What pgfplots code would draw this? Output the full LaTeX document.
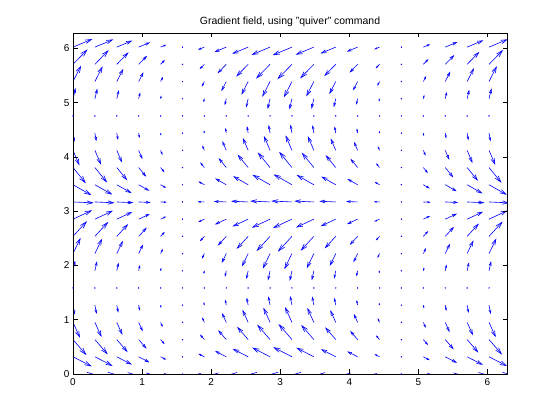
\documentclass[border=0pt]{standalone}
\usepackage{pgfplots}
\pgfplotsset{compat=1.18}
\usepackage{pgfplotstable}
\usepackage{fontspec}
\setmainfont{Liberation Sans}
\usetikzlibrary{arrows.meta}
\pgfplotstableread{
x y u v
0 0 1 0
0 0.317 0.903 -0.592
0 0.634 0.649 -0.955
0 0.951 0.337 -0.946
0 1.268 0.089 -0.569
0 1.902 0.106 0.615
0 2.219 0.365 0.963
0 2.536 0.676 0.936
0 2.853 0.919 0.546
0 3.170 0.999 -0.057
0 3.487 0.885 -0.637
0 3.804 0.622 -0.970
0 4.121 0.311 -0.926
0 4.438 0.073 -0.522
0 5.072 0.124 0.659
0 5.389 0.392 0.977
0 5.706 0.702 0.915
0 6.023 0.934 0.497
0.317 0 0.950 0
0.317 0.317 0.858 -0.563
0.317 0.634 0.617 -0.907
0.317 0.951 0.321 -0.899
0.317 1.268 0.084 -0.541
0.317 1.902 0.101 0.584
0.317 2.219 0.346 0.915
0.317 2.536 0.642 0.890
0.317 2.853 0.873 0.518
0.317 3.170 0.949 -0.054
0.317 3.487 0.841 -0.605
0.317 3.804 0.591 -0.922
0.317 4.121 0.295 -0.880
0.317 4.438 0.070 -0.496
0.317 5.072 0.118 0.626
0.317 5.389 0.373 0.928
0.317 5.706 0.667 0.869
0.317 6.023 0.887 0.473
0.634 0 0.806 0
0.634 0.317 0.727 -0.477
0.634 0.634 0.523 -0.769
0.634 0.951 0.272 -0.762
0.634 1.268 0.072 -0.459
0.634 1.902 0.085 0.496
0.634 2.219 0.294 0.776
0.634 2.536 0.545 0.754
0.634 2.853 0.740 0.440
0.634 3.170 0.805 -0.046
0.634 3.487 0.713 -0.513
0.634 3.804 0.501 -0.781
0.634 4.121 0.250 -0.746
0.634 4.438 0.059 -0.420
0.634 5.072 0.100 0.531
0.634 5.389 0.316 0.787
0.634 5.706 0.566 0.737
0.634 6.023 0.752 0.401
0.951 0 0.581 0
0.951 0.317 0.524 -0.344
0.951 0.634 0.377 -0.555
0.951 0.951 0.196 -0.549
0.951 1.268 0.052 -0.331
0.951 1.902 0.061 0.357
0.951 2.219 0.212 0.559
0.951 2.536 0.393 0.544
0.951 2.853 0.534 0.317
0.951 3.170 0.580 -0.033
0.951 3.487 0.514 -0.370
0.951 3.804 0.361 -0.563
0.951 4.121 0.181 -0.538
0.951 4.438 0.043 -0.303
0.951 5.072 0.072 0.383
0.951 5.389 0.228 0.567
0.951 5.706 0.408 0.531
0.951 6.023 0.542 0.289
1.268 0 0.298 0
1.268 0.317 0.269 -0.177
1.268 0.634 0.194 -0.285
1.268 0.951 0.101 -0.282
1.268 1.268 0.027 -0.170
1.268 1.902 0.032 0.183
1.268 2.219 0.109 0.287
1.268 2.536 0.202 0.279
1.268 2.853 0.274 0.163
1.268 3.170 0.298 -0.017
1.268 3.487 0.264 -0.190
1.268 3.804 0.185 -0.289
1.268 4.121 0.093 -0.276
1.268 4.438 0.022 -0.156
1.268 5.072 0.037 0.196
1.268 5.389 0.117 0.291
1.268 5.706 0.209 0.273
1.268 6.023 0.278 0.148
1.902 0 -0.325 0
1.902 0.317 -0.294 0.193
1.902 0.634 -0.211 0.310
1.902 0.951 -0.110 0.308
1.902 1.268 -0.029 0.185
1.902 1.902 -0.034 -0.200
1.902 2.219 -0.119 -0.313
1.902 2.536 -0.220 -0.304
1.902 2.853 -0.299 -0.177
1.902 3.170 -0.325 0.018
1.902 3.487 -0.288 0.207
1.902 3.804 -0.202 0.315
1.902 4.121 -0.101 0.301
1.902 4.438 -0.024 0.170
1.902 5.072 -0.040 -0.214
1.902 5.389 -0.128 -0.318
1.902 5.706 -0.228 -0.297
1.902 6.023 -0.304 -0.162
2.219 0 -0.604 0
2.219 0.317 -0.545 0.358
2.219 0.634 -0.392 0.576
2.219 0.951 -0.204 0.571
2.219 1.268 -0.054 0.344
2.219 1.902 -0.064 -0.371
2.219 2.219 -0.220 -0.581
2.219 2.536 -0.408 -0.565
2.219 2.853 -0.555 -0.329
2.219 3.170 -0.603 0.034
2.219 3.487 -0.535 0.385
2.219 3.804 -0.375 0.586
2.219 4.121 -0.188 0.559
2.219 4.438 -0.044 0.315
2.219 5.072 -0.075 -0.398
2.219 5.389 -0.237 -0.590
2.219 5.706 -0.424 -0.552
2.219 6.023 -0.564 -0.300
2.536 0 -0.822 0
2.536 0.317 -0.742 0.487
2.536 0.634 -0.534 0.785
2.536 0.951 -0.277 0.778
2.536 1.268 -0.073 0.468
2.536 1.902 -0.087 -0.506
2.536 2.219 -0.300 -0.792
2.536 2.536 -0.556 -0.770
2.536 2.853 -0.756 -0.449
2.536 3.170 -0.822 0.047
2.536 3.487 -0.728 0.524
2.536 3.804 -0.511 0.797
2.536 4.121 -0.256 0.761
2.536 4.438 -0.060 0.429
2.536 5.072 -0.102 -0.542
2.536 5.389 -0.322 -0.803
2.536 5.706 -0.577 -0.752
2.536 6.023 -0.768 -0.409
2.853 0 -0.959 0
2.853 0.317 -0.866 0.568
2.853 0.634 -0.622 0.915
2.853 0.951 -0.323 0.907
2.853 1.268 -0.085 0.546
2.853 1.902 -0.101 -0.590
2.853 2.219 -0.350 -0.923
2.853 2.536 -0.648 -0.897
2.853 2.853 -0.881 -0.523
2.853 3.170 -0.958 0.054
2.853 3.487 -0.849 0.611
2.853 3.804 -0.596 0.930
2.853 4.121 -0.298 0.887
2.853 4.438 -0.070 0.500
2.853 5.072 -0.119 -0.632
2.853 5.389 -0.376 -0.936
2.853 5.706 -0.673 -0.877
2.853 6.023 -0.895 -0.477
3.170 0 -1 0
3.170 0.317 -0.903 0.592
3.170 0.634 -0.649 0.954
3.170 0.951 -0.337 0.945
3.170 1.268 -0.089 0.569
3.170 1.902 -0.106 -0.615
3.170 2.219 -0.364 -0.962
3.170 2.536 -0.676 -0.936
3.170 2.853 -0.919 -0.545
3.170 3.170 -0.999 0.057
3.170 3.487 -0.885 0.637
3.170 3.804 -0.621 0.970
3.170 4.121 -0.311 0.925
3.170 4.438 -0.073 0.521
3.170 5.072 -0.124 -0.659
3.170 5.389 -0.392 -0.976
3.170 5.706 -0.702 -0.914
3.170 6.023 -0.933 -0.497
3.487 0 -0.941 0
3.487 0.317 -0.850 0.557
3.487 0.634 -0.611 0.898
3.487 0.951 -0.317 0.890
3.487 1.268 -0.084 0.536
3.487 1.902 -0.100 -0.579
3.487 2.219 -0.343 -0.906
3.487 2.536 -0.636 -0.881
3.487 2.853 -0.865 -0.513
3.487 3.170 -0.940 0.053
3.487 3.487 -0.833 0.600
3.487 3.804 -0.585 0.913
3.487 4.121 -0.292 0.871
3.487 4.438 -0.069 0.491
3.487 5.072 -0.116 -0.620
3.487 5.389 -0.369 -0.919
3.487 5.706 -0.661 -0.861
3.487 6.023 -0.879 -0.468
3.804 0 -0.789 0
3.804 0.317 -0.712 0.467
3.804 0.634 -0.512 0.753
3.804 0.951 -0.266 0.746
3.804 1.268 -0.070 0.449
3.804 1.902 -0.083 -0.485
3.804 2.219 -0.287 -0.759
3.804 2.536 -0.533 -0.738
3.804 2.853 -0.725 -0.430
3.804 3.170 -0.788 0.045
3.804 3.487 -0.698 0.502
3.804 3.804 -0.490 0.765
3.804 4.121 -0.245 0.730
3.804 4.438 -0.058 0.411
3.804 5.072 -0.098 -0.519
3.804 5.389 -0.309 -0.770
3.804 5.706 -0.554 -0.721
3.804 6.023 -0.736 -0.392
4.121 0 -0.558 0
4.121 0.317 -0.503 0.330
4.121 0.634 -0.362 0.532
4.121 0.951 -0.188 0.527
4.121 1.268 -0.050 0.317
4.121 1.902 -0.059 -0.343
4.121 2.219 -0.203 -0.537
4.121 2.536 -0.377 -0.522
4.121 2.853 -0.512 -0.304
4.121 3.170 -0.557 0.032
4.121 3.487 -0.494 0.355
4.121 3.804 -0.347 0.541
4.121 4.121 -0.173 0.516
4.121 4.438 -0.041 0.291
4.121 5.072 -0.069 -0.367
4.121 5.389 -0.219 -0.544
4.121 5.706 -0.392 -0.510
4.121 6.023 -0.521 -0.277
4.438 0 -0.271 0
4.438 0.317 -0.245 0.161
4.438 0.634 -0.176 0.259
4.438 0.951 -0.091 0.256
4.438 1.268 -0.024 0.154
4.438 1.902 -0.029 -0.167
4.438 2.219 -0.099 -0.261
4.438 2.536 -0.183 -0.254
4.438 2.853 -0.249 -0.148
4.438 3.170 -0.271 0.015
4.438 3.487 -0.240 0.173
4.438 3.804 -0.168 0.263
4.438 4.121 -0.084 0.251
4.438 4.438 -0.020 0.141
4.438 5.072 -0.034 -0.179
4.438 5.389 -0.106 -0.265
4.438 5.706 -0.190 -0.248
4.438 6.023 -0.253 -0.135
5.072 0 0.352 0
5.072 0.317 0.318 -0.208
5.072 0.634 0.228 -0.336
5.072 0.951 0.119 -0.333
5.072 1.268 0.031 -0.200
5.072 1.902 0.037 0.216
5.072 2.219 0.128 0.339
5.072 2.536 0.238 0.329
5.072 2.853 0.323 0.192
5.072 3.170 0.352 -0.020
5.072 3.487 0.312 -0.224
5.072 3.804 0.219 -0.341
5.072 4.121 0.109 -0.326
5.072 4.438 0.026 -0.184
5.072 5.072 0.044 0.232
5.072 5.389 0.138 0.344
5.072 5.706 0.247 0.322
5.072 6.023 0.329 0.175
5.389 0 0.626 0
5.389 0.317 0.565 -0.371
5.389 0.634 0.407 -0.598
5.389 0.951 0.211 -0.592
5.389 1.268 0.056 -0.356
5.389 1.902 0.066 0.385
5.389 2.219 0.228 0.603
5.389 2.536 0.423 0.586
5.389 2.853 0.575 0.342
5.389 3.170 0.626 -0.036
5.389 3.487 0.554 -0.399
5.389 3.804 0.389 -0.607
5.389 4.121 0.195 -0.580
5.389 4.438 0.046 -0.327
5.389 5.072 0.078 0.413
5.389 5.389 0.246 0.611
5.389 5.706 0.440 0.573
5.389 6.023 0.585 0.311
5.706 0 0.838 0
5.706 0.317 0.757 -0.496
5.706 0.634 0.544 -0.800
5.706 0.951 0.283 -0.793
5.706 1.268 0.074 -0.477
5.706 1.902 0.089 0.515
5.706 2.219 0.306 0.807
5.706 2.536 0.566 0.785
5.706 2.853 0.770 0.457
5.706 3.170 0.837 -0.048
5.706 3.487 0.742 -0.534
5.706 3.804 0.521 -0.813
5.706 4.121 0.260 -0.776
5.706 4.438 0.062 -0.437
5.706 5.072 0.104 0.552
5.706 5.389 0.329 0.818
5.706 5.706 0.589 0.766
5.706 6.023 0.782 0.417
6.023 0 0.966 0
6.023 0.317 0.872 -0.572
6.023 0.634 0.627 -0.922
6.023 0.951 0.326 -0.914
6.023 1.268 0.086 -0.550
6.023 1.902 0.102 0.594
6.023 2.219 0.352 0.930
6.023 2.536 0.653 0.905
6.023 2.853 0.888 0.527
6.023 3.170 0.966 -0.055
6.023 3.487 0.855 -0.616
6.023 3.804 0.601 -0.937
6.023 4.121 0.300 -0.894
6.023 4.438 0.071 -0.504
6.023 5.072 0.120 0.637
6.023 5.389 0.379 0.944
6.023 5.706 0.679 0.884
6.023 6.023 0.902 0.481
}\gradtable
\begin{document}
\begin{tikzpicture}
\useasboundingbox (0,0) rectangle (560bp,420bp);
\begin{axis}[
  at={(73bp,46bp)}, anchor=south west,
  scale only axis, width=434bp, height=341bp,
  xmin=0, xmax=6.2832, ymin=0, ymax=6.2832,
  xtick={0,1,2,3,4,5,6}, ytick={0,1,2,3,4,5,6},
  tick align=inside, tick pos=both,
  major tick length=4.5bp,
  axis line style={line width=0.6bp},
  every tick/.style={black, line width=0.6bp},
  tick label style={font=\fontsize{10}{12}\selectfont},
  xticklabel style={yshift=-1bp},
  /pgf/number format/assume math mode=true,
  title={Gradient field, using "quiver" command},
  title style={font=\fontsize{10.5}{12}\selectfont, at={(0.5,1)}, anchor=south, yshift=-3bp},
  axis on top,
]
\addplot[blue, line width=0.6bp,
  point meta={sqrt((\thisrow{u})^2+(\thisrow{v})^2)},
  quiver={u=\thisrow{u}, v=\thisrow{v}, scale arrows=0.3,
    every arrow/.append style={/utils/exec={\pgfmathsetlengthmacro\hl{1.1pt+5.6pt*\pgfplotspointmetatransformed/1000}\pgfmathsetlengthmacro\hw{0.8pt+3.2pt*\pgfplotspointmetatransformed/1000}}, -{Straight Barb[length=\hl, width=\hw]}}}]
  table {\gradtable};
\addplot[only marks, mark=*, mark size=0.45bp, blue] coordinates {
(1.585,0) (1.585,0.317) (1.585,0.634) (1.585,0.951) (1.585,1.268) (1.585,1.585) (1.585,1.902)
(1.585,2.219) (1.585,2.536) (1.585,2.853) (1.585,3.170) (1.585,3.487) (1.585,3.804) (1.585,4.121)
(1.585,4.438) (1.585,4.755) (1.585,5.072) (1.585,5.389) (1.585,5.706) (1.585,6.023)
(4.755,0) (4.755,0.317) (4.755,0.634) (4.755,0.951) (4.755,1.268) (4.755,1.585) (4.755,1.902)
(4.755,2.219) (4.755,2.536) (4.755,2.853) (4.755,3.170) (4.755,3.487) (4.755,3.804) (4.755,4.121)
(4.755,4.438) (4.755,4.755) (4.755,5.072) (4.755,5.389) (4.755,5.706) (4.755,6.023)
(0,1.585) (0.317,1.585) (0.634,1.585) (0.951,1.585) (1.268,1.585) (1.902,1.585) (2.219,1.585)
(2.536,1.585) (2.853,1.585) (3.170,1.585) (3.487,1.585) (3.804,1.585) (4.121,1.585) (4.438,1.585)
(5.072,1.585) (5.389,1.585) (5.706,1.585) (6.023,1.585)
(0,4.755) (0.317,4.755) (0.634,4.755) (0.951,4.755) (1.268,4.755) (1.902,4.755) (2.219,4.755)
(2.536,4.755) (2.853,4.755) (3.170,4.755) (3.487,4.755) (3.804,4.755) (4.121,4.755) (4.438,4.755)
(5.072,4.755) (5.389,4.755) (5.706,4.755) (6.023,4.755)
};
\end{axis}
\end{tikzpicture}
\end{document}
